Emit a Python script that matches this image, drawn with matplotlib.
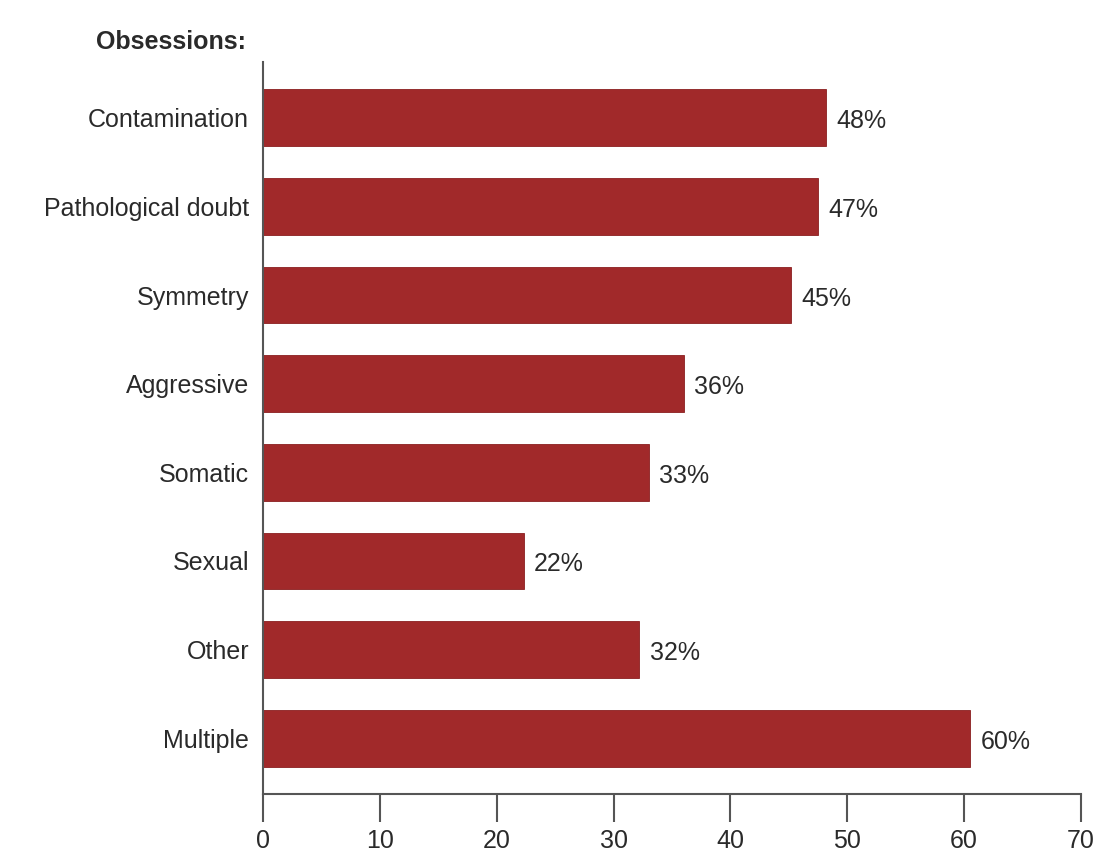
import matplotlib

matplotlib.use("Agg")
import matplotlib.pyplot as plt

categories = ["Contamination", "Pathological doubt", "Symmetry", "Aggressive",
              "Somatic", "Sexual", "Other", "Multiple"]
bar_values = [48.2, 47.5, 45.2, 36.0, 33.0, 22.3, 32.2, 60.5]
value_labels = ["48%", "47%", "45%", "36%", "33%", "22%", "32%", "60%"]
x_ticks = [0, 10, 20, 30, 40, 50, 60, 70]

plt.rcParams["font.family"] = ["Liberation Sans", "DejaVu Sans"]
BAR = "#a1292a"
AXC = "#555555"
TXT = "#2a2a2a"

fig = plt.figure(figsize=(11, 8.52), dpi=100)
ax = fig.add_axes([263 / 1100, 1 - 794 / 852, (1081 - 263) / 1100, (794 - 62) / 852])

ypos = list(range(len(categories)))
ax.barh(ypos, bar_values, height=0.64, color=BAR, edgecolor="#8a1f20", linewidth=0.6)
for y, v, lab in zip(ypos, bar_values, value_labels):
    ax.text(v + 0.9, y + 0.04, lab, va="center", ha="left", fontsize=18, color=TXT)

ax.set_xlim(0, 70)
ax.set_ylim(len(categories) - 0.37, -0.63)
ax.set_yticks(ypos)
ax.set_yticklabels(categories, fontsize=18, color=TXT)
ax.set_xticks(x_ticks)
ax.set_xticklabels([str(t) for t in x_ticks], fontsize=18, color=TXT)
ax.tick_params(axis="y", length=0, pad=10)
ax.tick_params(axis="x", length=20, width=1.5, color=AXC, pad=5, direction="out")
for s in ["top", "right"]:
    ax.spines[s].set_visible(False)
for s in ["left", "bottom"]:
    ax.spines[s].set_color(AXC)
    ax.spines[s].set_linewidth(1.5)

fig.text(96 / 1100, 1 - 42 / 852, "Obsessions:", fontsize=18, fontweight="bold",
         ha="left", va="center", color=TXT)

fig.savefig("out.png", dpi=100, facecolor="white")
